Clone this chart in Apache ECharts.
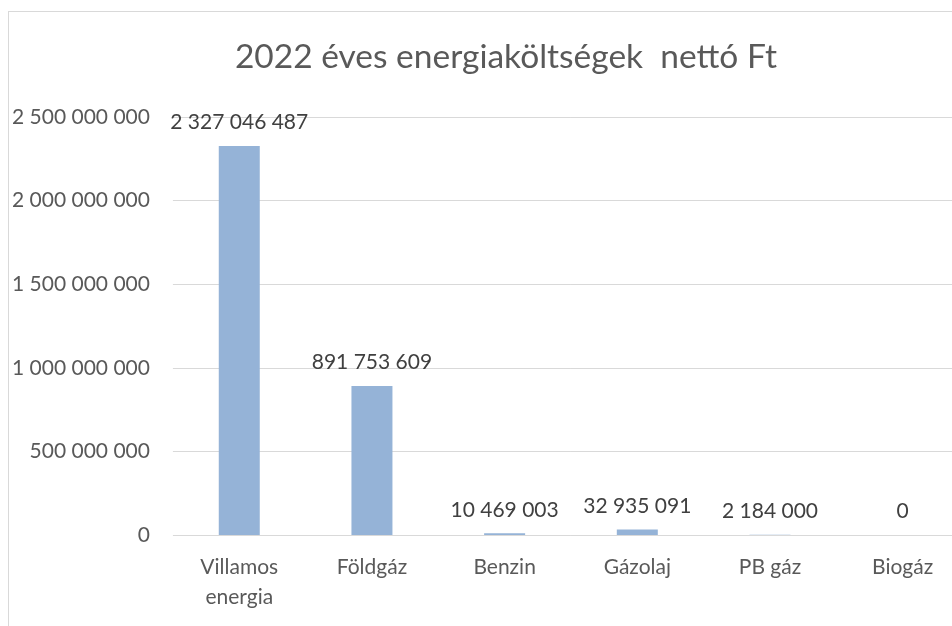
<!DOCTYPE html>
<html>
<head>
<meta charset="utf-8">
<script src="https://cdn.jsdelivr.net/npm/echarts@6/dist/echarts.min.js"></script>
<style>
  html, body { margin: 0; padding: 0; background: #fff; overflow: hidden; }
  #chart {
    position: absolute; left: 8px; top: 11px;
    width: 1000px; height: 700px;
    border: 1px solid #d9d9d9;
  }
</style>
</head>
<body>
<div id="chart"></div>
<script>
const TITLE = '2022 éves energiaköltségek  nettó Ft'
const categories = ['Villamos\nenergia', 'Földgáz', 'Benzin', 'Gázolaj', 'PB gáz', 'Biogáz']
const costs = [2327046487, 891753609, 10469003, 32935091, 2184000, 0]

const FONT = 'Lato, "Noto Sans", sans-serif'

// thousands separated by spaces, like the Hungarian locale
const fmt = v => String(Math.round(v)).replace(/\B(?=(\d{3})+(?!\d))/g, ' ')

const chart = echarts.init(document.getElementById('chart'))
chart.setOption({
  animation: false,
  textStyle: { fontFamily: FONT },
  title: {
    text: TITLE,
    left: 492,
    top: 23,
    textAlign: 'center',
    textStyle: { fontFamily: FONT, fontSize: 33.5, fontWeight: 'normal', color: '#595959' },
  },
  grid: { left: 162, top: 105, width: 798, height: 418 },
  xAxis: {
    type: 'category',
    data: categories,
    axisLine: { show: false },
    axisTick: { show: false },
    axisLabel: { color: '#595959', fontSize: 21, lineHeight: 30, margin: 17, interval: 0 },
  },
  yAxis: {
    type: 'value',
    min: 0,
    max: 2500000000,
    interval: 500000000,
    axisLine: { show: false },
    axisTick: { show: false },
    axisLabel: { color: '#595959', fontSize: 21, margin: 23, formatter: fmt },
    splitLine: { lineStyle: { color: '#d9d9d9', width: 1 } },
  },
  series: [{
    type: 'bar',
    data: costs,
    barWidth: 41,
    itemStyle: { color: '#95b3d7' },
    label: {
      show: true,
      position: 'top',
      distance: 13,
      color: '#404040',
      fontSize: 21,
      formatter: p => fmt(p.value),
    },
  }],
})
</script>
</body>
</html>
